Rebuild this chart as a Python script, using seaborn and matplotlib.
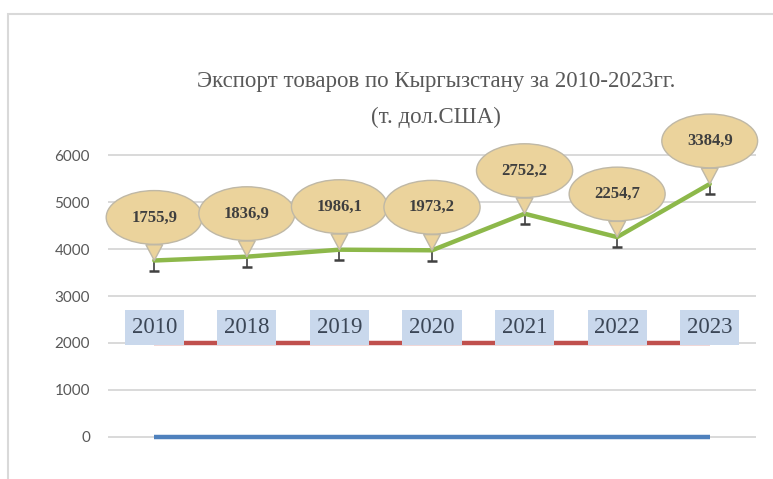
import matplotlib
matplotlib.use("Agg")
import numpy as np
import pandas as pd
import matplotlib.pyplot as plt
import seaborn as sns
from matplotlib.patches import Rectangle

# data (stacked line chart, values in thousand USD)
years = ["2010", "2018", "2019", "2020", "2021", "2022", "2023"]
export = [1755.9, 1836.9, 1986.1, 1973.2, 2752.2, 2254.7, 3384.9]
series_blue = [0, 0, 0, 0, 0, 0, 0]
series_red = [2000, 2000, 2000, 2000, 2000, 2000, 2000]
export_labels = ["1755,9", "1836,9", "1986,1", "1973,2", "2752,2", "2254,7", "3384,9"]
y_ticks = [0, 1000, 2000, 3000, 4000, 5000, 6000]

df = pd.DataFrame({"pos": np.arange(len(years)), "year": years})
df["s1"] = series_blue
df["s2"] = df["s1"] + np.array(series_red)
df["s3"] = df["s2"] + np.array(export)

sns.set_theme(style="white")
plt.rcParams["font.family"] = ["Lato", "DejaVu Sans"]

fig = plt.figure(figsize=(7.73, 4.79), dpi=100)
ax = fig.add_axes([108 / 773, 1 - 451 / 479, 648 / 773, 310 / 479])

sns.lineplot(data=df, x="pos", y="s1", color="#4F81BD", lw=3.2, ax=ax,
             solid_capstyle="butt", zorder=2)
sns.lineplot(data=df, x="pos", y="s2", color="#C0504D", lw=3.2, ax=ax,
             solid_capstyle="butt", zorder=2)
sns.lineplot(data=df, x="pos", y="s3", color="#8DB84A", lw=3.2, ax=ax,
             solid_capstyle="round", zorder=2)

# small error-bar like ticks under the green points
ax.vlines(df["pos"], df["s3"] - 220, df["s3"], color="#404040", lw=1.2, zorder=1.5)
ax.plot(df["pos"], df["s3"] - 220, ls="none", marker="_", ms=7, mew=1.8,
        color="#404040", zorder=1.5)

# year labels on the red series
for i, yr in enumerate(years):
    ax.annotate(yr, (df["pos"][i], df["s2"][i]), xytext=(0, 11),
                textcoords="offset points", ha="center", va="center",
                fontsize=16.5, family="Liberation Serif", color="#3B4656",
                bbox=dict(boxstyle="square,pad=0.3", fc="#C9D8EC", ec="none"),
                zorder=4)

# callout bubbles with export values
for i, lab in enumerate(export_labels):
    ax.annotate(lab, (df["pos"][i], df["s3"][i]), xytext=(0, 31),
                textcoords="offset points", ha="center", va="center",
                fontsize=12, family="Liberation Serif", weight="bold",
                color="#3F3F3F",
                bbox=dict(boxstyle="ellipse,pad=0.66", fc="#EBD39C", ec="#BFB8A6", lw=1),
                arrowprops=dict(arrowstyle="wedge,tail_width=1.0,shrink_factor=0.5",
                                fc="#EBD39C", ec="#BFB8A6", lw=1,
                                shrinkA=0, shrinkB=0),
                zorder=5)

ax.set_xlim(-0.5, 6.5)
ax.set_ylim(-300, 6300)
ax.set_yticks(y_ticks)
ax.set_xticks([])
ax.set_xlabel("")
ax.set_ylabel("")
ax.yaxis.grid(True, color="#D9D9D9", lw=1.4)
ax.set_axisbelow(True)
ax.tick_params(axis="y", length=0, pad=13, labelsize=11, labelcolor="#595959")
sns.despine(ax=ax, left=True, bottom=True)

fig.text(436 / 773, 1 - 81 / 479, "Экспорт товаров по Кыргызстану за 2010-2023гг.",
         ha="center", va="center", fontsize=16.5, family="Liberation Serif", color="#595959")
fig.text(436 / 773, 1 - 117 / 479, "(т. дол.США)",
         ha="center", va="center", fontsize=16.5, family="Liberation Serif", color="#595959")

# outer chart frame (cropped at right and bottom)
fig.add_artist(Rectangle((8 / 773, -0.1), 1.2, 1 - 14 / 479 + 0.1,
                         transform=fig.transFigure, fill=False,
                         ec="#D9D9D9", lw=1.5))

fig.savefig("out.png", dpi=100)
